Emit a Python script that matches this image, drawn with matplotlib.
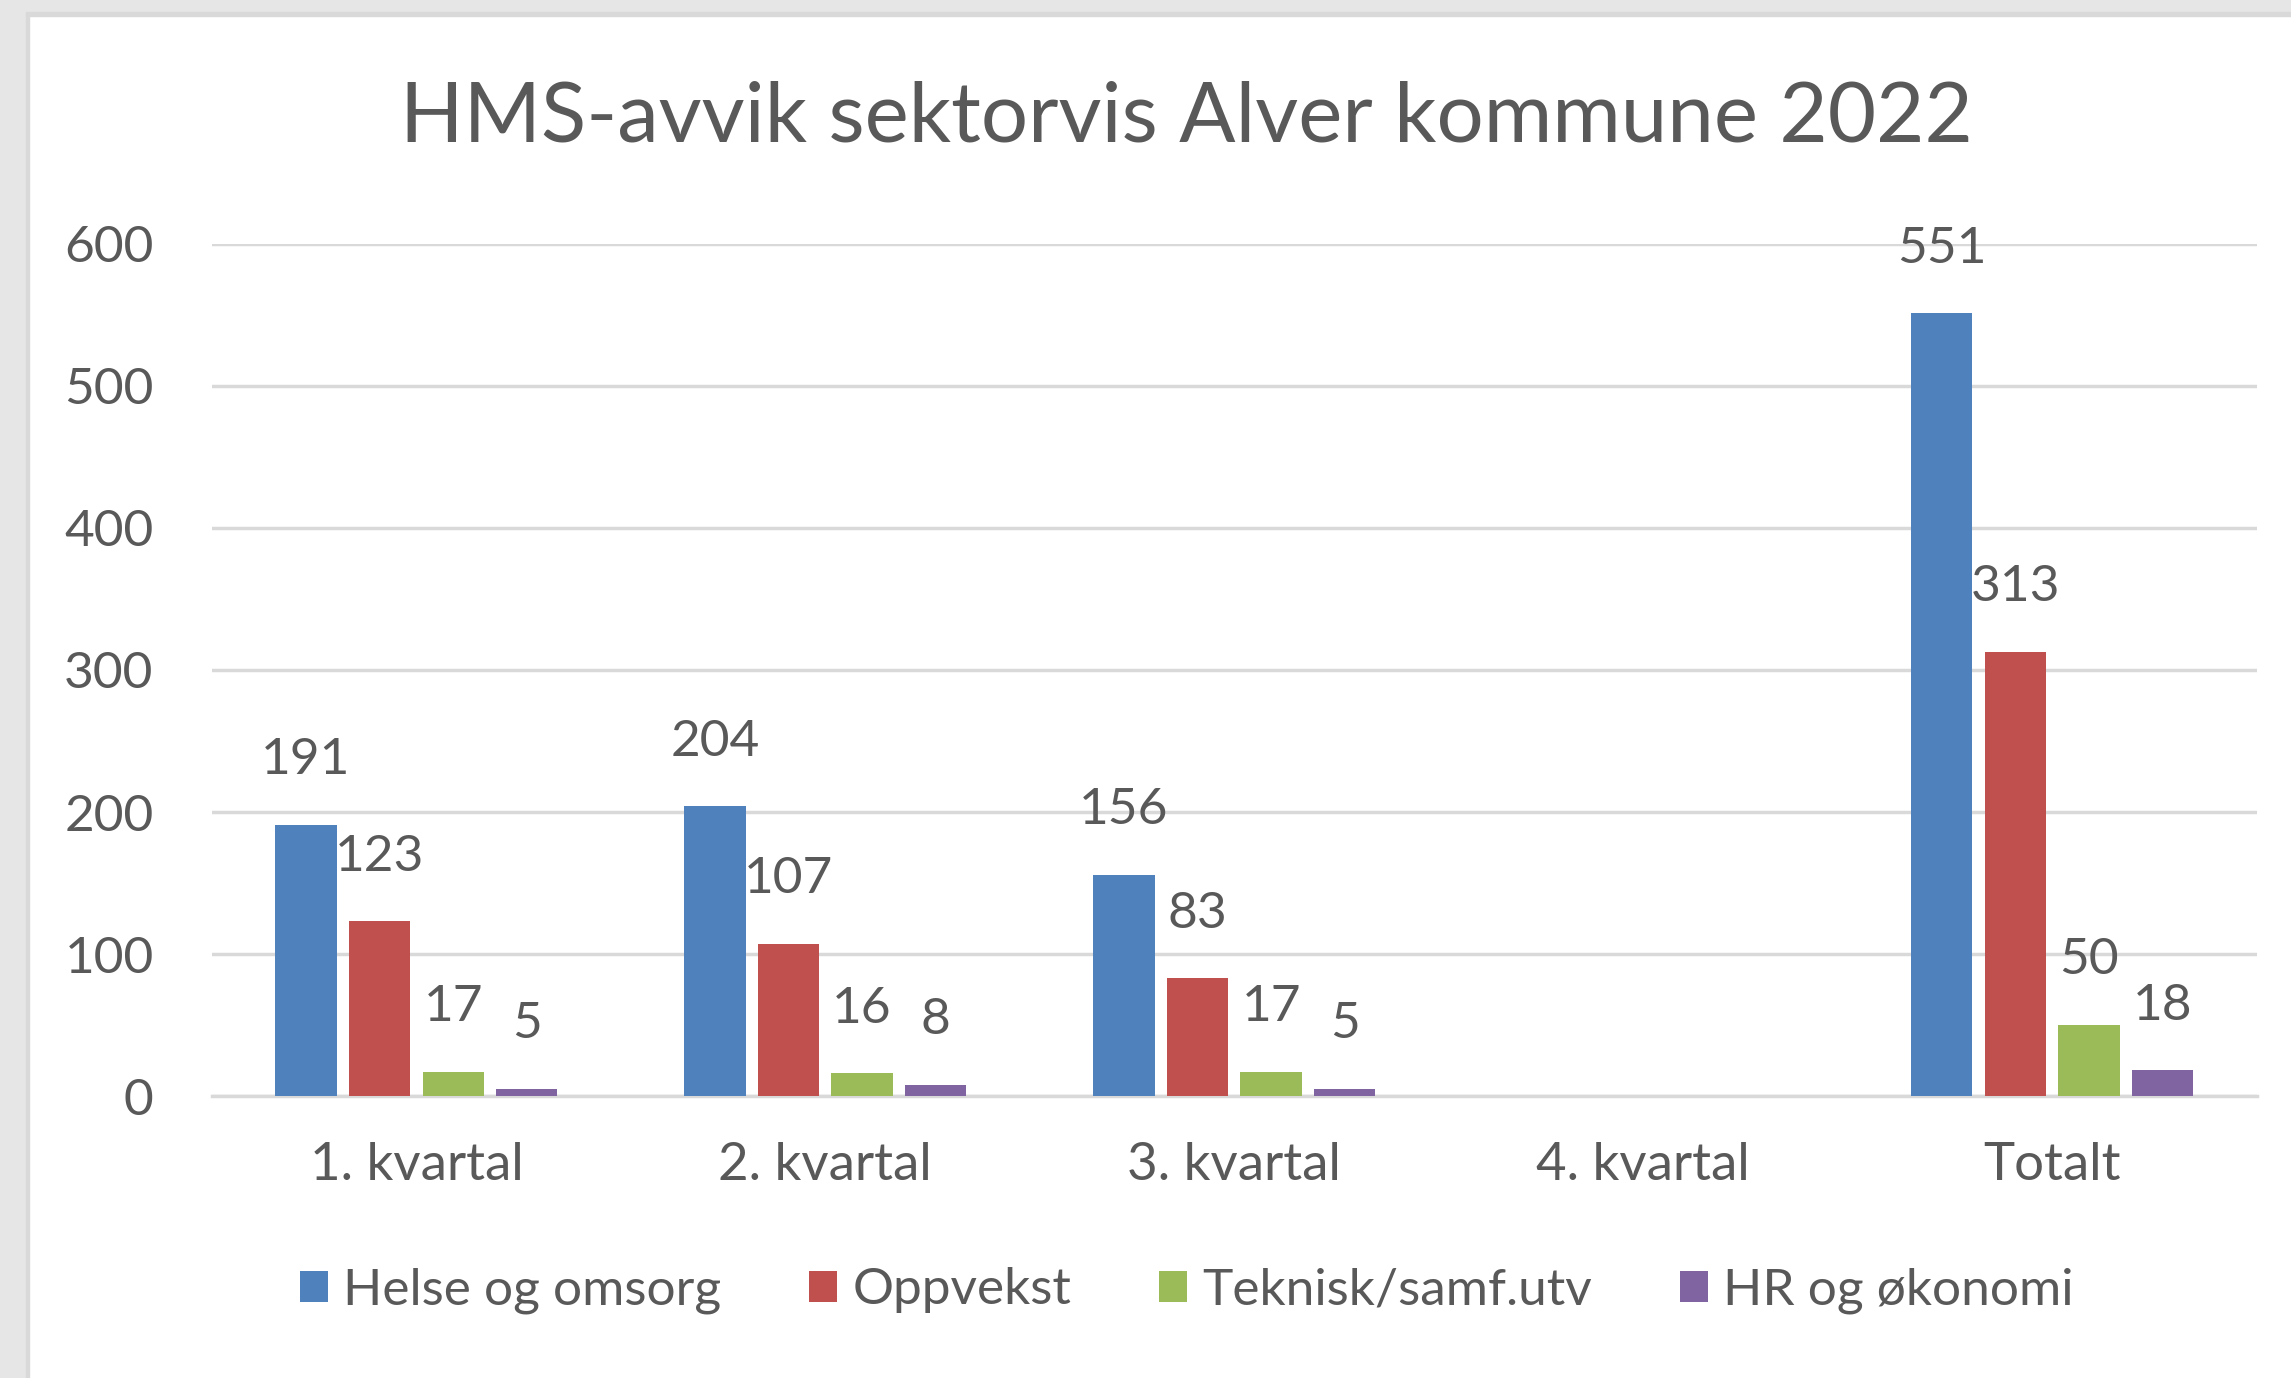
import numpy as np
import matplotlib.pyplot as plt
from matplotlib.patches import Rectangle

# data (4. kvartal has no values yet)
categories = ['1. kvartal', '2. kvartal', '3. kvartal', '4. kvartal', 'Totalt']
series_names = ['Helse og omsorg', 'Oppvekst', 'Teknisk/samf.utv', 'HR og økonomi']
helse = [191, 204, 156, np.nan, 551]
oppvekst = [123, 107, 83, np.nan, 313]
teknisk = [17, 16, 17, np.nan, 50]
hr = [5, 8, 5, np.nan, 18]
y_ticks = [0, 100, 200, 300, 400, 500, 600]
title = 'HMS-avvik sektorvis Alver kommune 2022'

colors = ['#4F81BD', '#C0504D', '#9BBB59', '#8064A2']
text_col = '#595959'
grid_col = '#D9D9D9'

plt.rcParams['font.family'] = ['Lato', 'DejaVu Sans']

fig = plt.figure(figsize=(22.91, 13.78), dpi=100)
# grey frame at the top and left edges of the screenshot
fig.patches.append(Rectangle((0, 0), 28 / 2291, 1, transform=fig.transFigure,
                             color='#E6E6E6', zorder=0))
fig.patches.append(Rectangle((26 / 2291, 0), 3 / 2291, 1 - 12 / 1378, transform=fig.transFigure,
                             color='#D9D9D9', zorder=0))
fig.patches.append(Rectangle((0, 1 - 12 / 1378), 1, 12 / 1378, transform=fig.transFigure,
                             color='#E6E6E6', zorder=0))
fig.patches.append(Rectangle((26 / 2291, 1 - 16 / 1378), 1, 4 / 1378, transform=fig.transFigure,
                             color='#D9D9D9', zorder=0))

ax = fig.add_axes([0.0925, 0.2046, 0.8925, 0.6184])

x = np.arange(len(categories))
step = 0.18
width = 0.15
all_series = [helse, oppvekst, teknisk, hr]
for i, (vals, name, col) in enumerate(zip(all_series, series_names, colors)):
    offs = (i - 1.5) * step
    bars = ax.bar(x + offs, vals, width, color=col, label=name, zorder=3)
    labels = ['' if np.isnan(v) else str(int(v)) for v in vals]
    ax.bar_label(bars, labels=labels, padding=30, fontsize=37, color=text_col)

ax.set_xlim(-0.5, len(categories) - 0.5)
ax.set_ylim(0, 600)
ax.set_yticks(y_ticks)
ax.set_xticks(x)
ax.set_xticklabels(categories)
ax.tick_params(axis='y', length=0, pad=42, labelsize=37, labelcolor=text_col)
ax.tick_params(axis='x', length=0, pad=33, labelsize=38, labelcolor=text_col)
ax.grid(axis='y', color=grid_col, linewidth=2.5, zorder=0)
for s in ['top', 'right', 'left']:
    ax.spines[s].set_visible(False)
ax.spines['bottom'].set_color(grid_col)
ax.spines['bottom'].set_linewidth(2.5)
ax.spines['bottom'].set_zorder(0)
ax.set_axisbelow(True)

fig.text(0.518, 1 - 118 / 1378, title, ha='center', va='center', fontsize=60, color=text_col)

fig.legend(loc='center', bbox_to_anchor=(0.518, 0.0635), ncol=4, frameon=False,
           fontsize=37, handlelength=0.55, handleheight=0.55, handletextpad=0.3,
           columnspacing=1.7, labelcolor=text_col)

plt.savefig('out.png', dpi=100)
